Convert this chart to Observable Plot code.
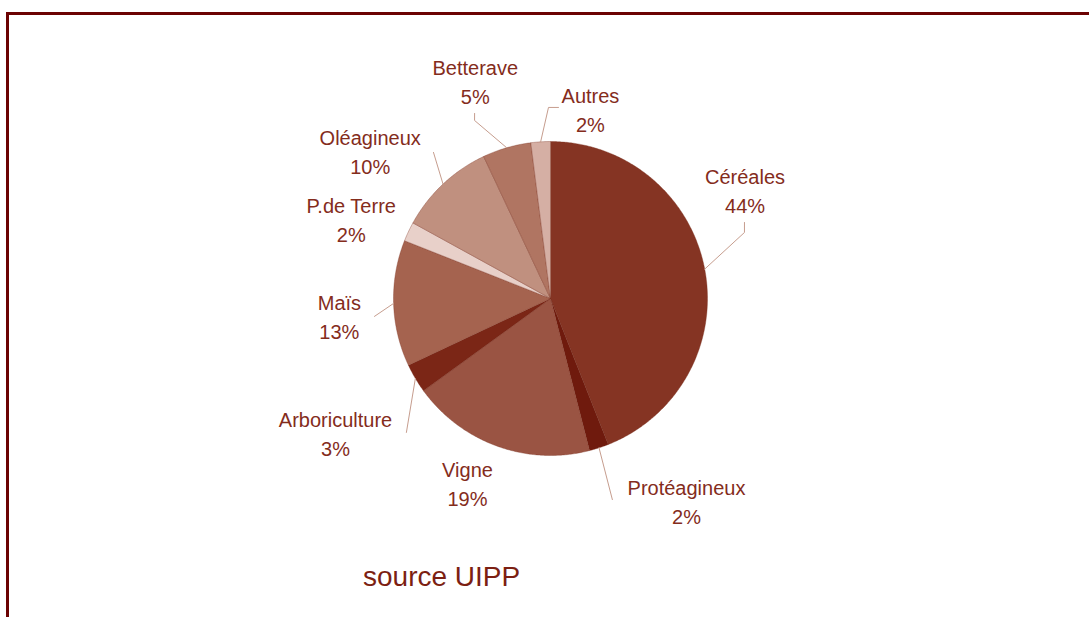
<!DOCTYPE html>
<html><head><meta charset="utf-8">
<script src="https://cdn.jsdelivr.net/npm/d3@7"></script>
<script src="https://cdn.jsdelivr.net/npm/@observablehq/plot@0.6"></script>
<style>
body{margin:0;background:#fff;font-family:"Liberation Sans",Arial,sans-serif;}
#wrap{position:relative;width:1089px;height:617px;overflow:hidden}
#frame{position:absolute;left:6px;top:12px;right:-10px;bottom:-10px;border-top:3px solid #6b0202;border-left:3px solid #6b0202;pointer-events:none}
#source{position:absolute;left:363px;top:563px;font-size:28px;line-height:28px;color:#7c1f12;white-space:nowrap}
</style></head><body>
<div id="wrap"><div id="chart"></div><div id="frame"></div><div id="source">source UIPP</div></div>
<script>
// ---- data ----
const categories = ["Céréales","Protéagineux","Vigne","Arboriculture","Maïs","P.de Terre","Oléagineux","Betterave","Autres"];
const shares = [44, 2, 19, 3, 13, 2, 10, 5, 2];
const percentLabels = ["44%","2%","19%","3%","13%","2%","10%","5%","2%"];

// ---- styles ----
const sliceColors = ["#853423","#6f1a0d","#9a5443","#7b2616","#a5634f","#e8d0c9","#c0907f","#b07562","#d5afa4"];
const textColor = "#842c1c";
const leaderColor = "#c69d8e";

// ---- layout ----
const W = 1089, H = 617, CX = 550, CY = 298, R = 157;
// label placement around the pie: [angle in degrees from top, clockwise; distance in radii]
const labelPolar = [[61.2,1.414],[146.3,1.561],[204,1.30],[237.7,1.62],[264.9,1.35],[291.4,1.363],[309,1.478],[340.8,1.457],[12,1.224]];
// leader bends / ends (same polar convention); empty = no leader
const leaderPolar = [
  [[71.2,1.305],[68.6,1.327]],
  [[162.9,1.34]],
  [],
  [[227.1,1.253]],
  [[264.2,1.127]],
  [],
  [[321.3,1.192]],
  [[336.9,1.233],[337.7,1.274]],
  [[359.4,1.217],[2.4,1.218]]
];

const rad = d => d * Math.PI / 180;
const arcs = d3.pie().sort(null).value(d => d)(shares);

// slice polygons
const slicePts = [];
arcs.forEach((a, i) => {
  const name = categories[i];
  const n = Math.max(2, Math.ceil((a.endAngle - a.startAngle) / (Math.PI / 360)));
  slicePts.push({name, x: 0, y: 0});
  for (let k = 0; k <= n; k++) {
    const t = a.startAngle + (a.endAngle - a.startAngle) * k / n;
    slicePts.push({name, x: Math.sin(t), y: -Math.cos(t)});
  }
  slicePts.push({name, x: 0, y: 0});
});

// leaders
const leaderPts = [];
arcs.forEach((a, i) => {
  if (!leaderPolar[i].length) return;
  const name = categories[i];
  const m = (a.startAngle + a.endAngle) / 2;
  leaderPts.push({name, x: Math.sin(m), y: -Math.cos(m)});
  for (const [ang, d] of leaderPolar[i]) leaderPts.push({name, x: d * Math.sin(rad(ang)), y: -d * Math.cos(rad(ang))});
});

// labels
const labelData = categories.map((name, i) => ({
  text: name + "\n" + percentLabels[i],
  x: labelPolar[i][1] * Math.sin(rad(labelPolar[i][0])),
  y: -labelPolar[i][1] * Math.cos(rad(labelPolar[i][0]))
}));

const chart = Plot.plot({
  width: W, height: H, margin: 0,
  style: {background: "transparent", overflow: "visible"},
  x: {type: "linear", domain: [-CX / R, (W - CX) / R], range: [0, W], axis: null},
  y: {type: "linear", domain: [-CY / R, (H - CY) / R], range: [0, H], axis: null},
  color: {domain: categories, range: sliceColors},
  marks: [
    Plot.line(slicePts, {x: "x", y: "y", z: "name", fill: "name", stroke: "#7a3020", strokeWidth: 0.5, strokeOpacity: 0.7}),
    Plot.line(leaderPts, {x: "x", y: "y", z: "name", stroke: leaderColor, strokeWidth: 1}),
    Plot.text(labelData, {x: "x", y: "y", text: "text", fill: textColor, fontSize: 20, fontFamily: "Liberation Sans", lineHeight: 1.45, dy: -2.5})
  ]
});
document.getElementById("chart").appendChild(chart);
</script>
</body></html>
